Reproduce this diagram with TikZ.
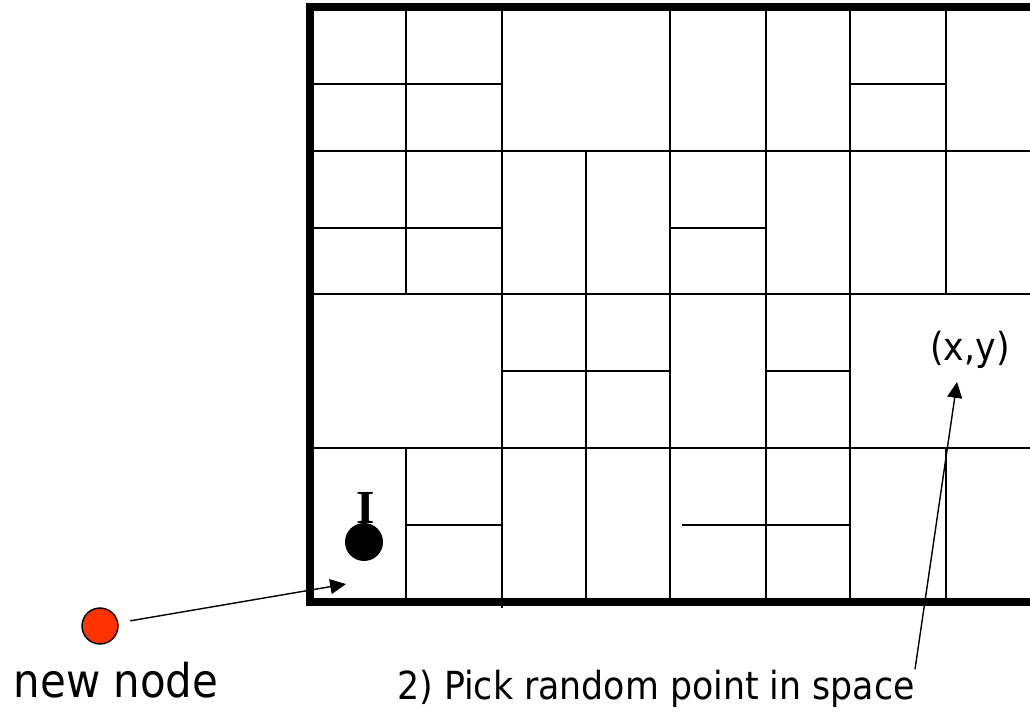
\documentclass[tikz,border=0pt]{standalone}
\usepackage{fontspec}
\setmainfont{DejaVu Sans Condensed}
\newfontfamily\serifletter{Liberation Serif}
\usepackage{xcolor}
\usepackage{tikz}
\usetikzlibrary{arrows.meta, positioning}
\definecolor{newred}{HTML}{FF3300}
\tikzset{
  cellline/.style={line width=1.1pt, color=black},
  frameline/.style={line width=4.8pt, color=black, line join=miter},
  ptarrow/.style={-{Triangle[length=9pt, width=8.5pt]}, line width=0.8pt},
  anchordot/.style={circle, fill=black, minimum size=0.76cm, inner sep=0pt},
  newdot/.style={circle, draw=black, line width=0.8pt, fill=newred,
    minimum size=0.72cm, inner sep=0pt},
  biglabel/.style={font=\fontsize{26.5}{30}\selectfont, inner sep=0pt},
  midlabel/.style={font=\fontsize{22}{26}\selectfont, inner sep=0pt},
}

\begin{document}
\begin{tikzpicture}[x=0.02cm, y=-0.02cm]
  \useasboundingbox (0,0) rectangle (1030,712);

  % ---- CELL SPLITS: vertical ----
  \draw[cellline] (406,7) -- (406,294);
  \draw[cellline] (406,448) -- (406,602);
  \draw[cellline] (502,7) -- (502,608);
  \draw[cellline] (586,151) -- (586,602);
  \draw[cellline] (670,7) -- (670,602);
  \draw[cellline] (766,7) -- (766,602);
  \draw[cellline] (850,7) -- (850,602);
  \draw[cellline] (946,7) -- (946,294);
  \draw[cellline] (946,448) -- (946,602);

  % ---- CELL SPLITS: horizontal ----
  \draw[cellline] (310,84) -- (502,84);
  \draw[cellline] (850,84) -- (946,84);
  \draw[cellline] (310,151) -- (1030,151);
  \draw[cellline] (310,228) -- (502,228);
  \draw[cellline] (670,228) -- (766,228);
  \draw[cellline] (310,294) -- (1030,294);
  \draw[cellline] (502,371) -- (670,371);
  \draw[cellline] (766,371) -- (850,371);
  \draw[cellline] (310,448) -- (1030,448);
  \draw[cellline] (406,525) -- (502,525);
  \draw[cellline] (682,525) -- (850,525);

  % Space border
  \draw[frameline] (1030,7) -- (310,7) -- (310,602) -- (1030,602);

  % Existing node in its cell
  \node[anchordot] (bootstrap) at (364,542) {};
  \node[inner sep=0pt, font=\serifletter\bfseries\fontsize{27}{32}\selectfont,
    anchor=base] (ilabel) at (366,523) {I};

  % New node joining
  \node[newdot] (joiner) at (100,626) {};
  \node[biglabel, anchor=base] (joinerlabel) at (116,697) {new node};
  \coordinate (entry) at (346,584);
  \draw[ptarrow, shorten <=0.24cm] (joiner) -- (entry);

  % Random point
  \node[midlabel, anchor=base] (xylabel) at (970,361) {(x,y)};
  \coordinate (rndpt) at (957,382);
  \node[midlabel, anchor=base east] (pick) at (915,699)
    {2) Pick random point in space};
  \draw[ptarrow] (pick.north east) -- (rndpt);
\end{tikzpicture}
\end{document}
